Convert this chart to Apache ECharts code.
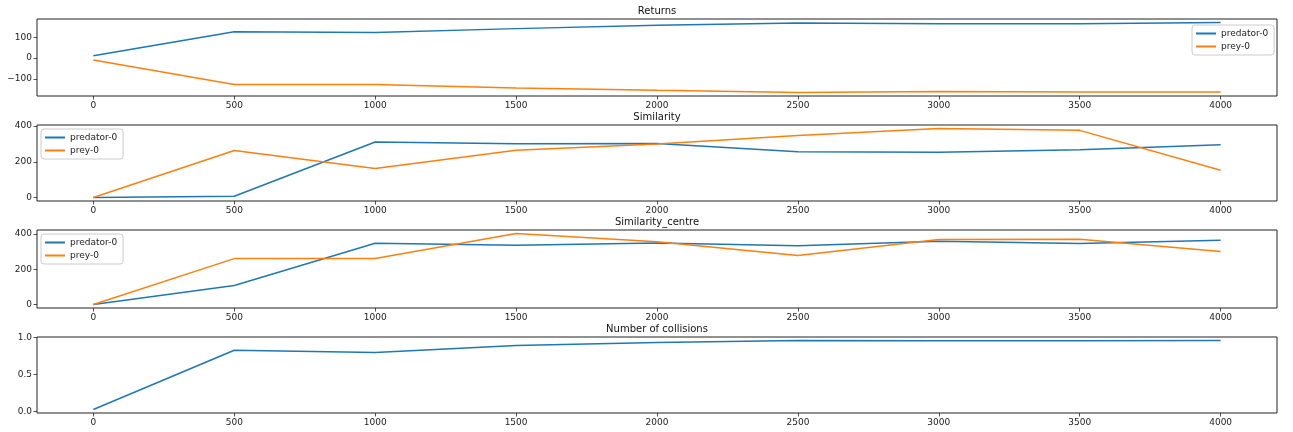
<!DOCTYPE html>
<html>
<head>
<meta charset="utf-8">
<script src="https://cdn.jsdelivr.net/npm/echarts@6/dist/echarts.min.js"></script>
<style>
  html, body { margin: 0; padding: 0; background: #fff; }
  #chart { width: 1293px; height: 432px; }
</style>
</head>
<body>
<div id="chart"></div>
<script>
// training steps shared by every panel
const steps = [0, 500, 1000, 1500, 2000, 2500, 3000, 3500, 4000];
const xTicks = [0, 500, 1000, 1500, 2000, 2500, 3000, 3500, 4000];

// Returns
const returnsPredator = [11, 126, 123, 141, 157, 168, 164, 164, 170];
const returnsPrey = [-9, -126, -126, -143, -154, -164, -159, -162, -162];
const returnsTicks = [-100, 0, 100];

// Similarity
const simPredator = [0, 7, 311, 301, 303, 256, 254, 267, 296];
const simPrey = [0, 263, 163, 265, 300, 347, 387, 376, 153];
const simTicks = [0, 200, 400];

// Similarity_centre
const centrePredator = [0, 108, 347, 335, 349, 333, 358, 345, 364];
const centrePrey = [0, 260, 261, 402, 356, 277, 368, 369, 300];
const centreTicks = [0, 200, 400];

// Number of collisions
const collisions = [0.027, 0.83, 0.80, 0.895, 0.936, 0.963, 0.96, 0.96, 0.963];
const collisionTicks = [0, 0.5, 1.0];

const panelTitles = ['Returns', 'Similarity', 'Similarity_centre', 'Number of collisions'];
const seriesNames = ['predator-0', 'prey-0'];

const BLUE = '#1f77b4';
const ORANGE = '#ff7f0e';
const FONT = 'DejaVu Sans';

const pair = (ys) => steps.map((x, i) => [x, ys[i]]);

// grid frames (px)
const grids = [
  { top: 19, height: 77 },
  { top: 125, height: 76 },
  { top: 230, height: 78 },
  { top: 337, height: 76 }
];

const yRanges = [
  { min: -181, max: 187, ticks: returnsTicks, fmt: v => String(v).replace('-', '\u2212') },
  { min: -19.4, max: 406, ticks: simTicks, fmt: v => String(v) },
  { min: -20, max: 422, ticks: centreTicks, fmt: v => String(v) },
  { min: -0.02, max: 1.01, ticks: collisionTicks, fmt: v => v.toFixed(1) }
];

const tickStyle = { show: true, inside: false, length: 3.5, lineStyle: { color: '#222', width: 0.8 } };

const option = {
  animation: false,
  backgroundColor: '#fff',
  title: panelTitles.map((t, i) => ({
    text: t,
    left: 657,
    textAlign: 'center',
    top: grids[i].top - 13,
    padding: 0,
    textStyle: { fontFamily: FONT, fontSize: 10, fontWeight: 'normal', color: '#111' }
  })),
  grid: grids.map(g => ({
    left: 37, right: 16, top: g.top, height: g.height,
    show: true, borderColor: '#222', borderWidth: 1, backgroundColor: 'transparent'
  })),
  xAxis: grids.map((g, i) => ({
    type: 'value', gridIndex: i, min: -200, max: 4200,
    position: 'bottom',
    axisLine: { show: false, onZero: false },
    splitLine: { show: false },
    axisTick: Object.assign({ customValues: xTicks }, tickStyle),
    axisLabel: {
      customValues: xTicks, margin: 5, formatter: v => String(v),
      fontFamily: FONT, fontSize: 9, color: '#222'
    }
  })),
  yAxis: yRanges.map((r, i) => ({
    type: 'value', gridIndex: i, min: r.min, max: r.max,
    position: 'left',
    axisLine: { show: false, onZero: false },
    splitLine: { show: false },
    axisTick: Object.assign({ customValues: r.ticks }, tickStyle),
    axisLabel: {
      customValues: r.ticks, margin: 5, formatter: r.fmt,
      fontFamily: FONT, fontSize: 9, color: '#222'
    }
  })),
  legend: [
    { left: 1192, top: 25 },
    { left: 41, top: 129 },
    { left: 41, top: 234 }
  ].map(p => ({
    data: seriesNames,
    orient: 'vertical',
    left: p.left, top: p.top,
    icon: 'rect', itemWidth: 20, itemHeight: 2, itemGap: 2,
    padding: [3, 6, 3, 4],
    backgroundColor: 'rgba(255,255,255,0.8)',
    borderColor: '#ccc', borderWidth: 1, borderRadius: 3,
    selectedMode: false,
    textStyle: { fontFamily: FONT, fontSize: 9, color: '#222', lineHeight: 11 }
  })),
  series: [
    [returnsPredator, returnsPrey],
    [simPredator, simPrey],
    [centrePredator, centrePrey],
    [collisions]
  ].flatMap((group, gi) => group.map((ys, si) => ({
    name: seriesNames[si],
    type: 'line',
    xAxisIndex: gi, yAxisIndex: gi,
    data: pair(ys),
    showSymbol: false,
    symbol: 'none',
    color: si === 0 ? BLUE : ORANGE,
    lineStyle: { width: 1.5, color: si === 0 ? BLUE : ORANGE }
  })))
};

const chart = echarts.init(document.getElementById('chart'), null, { renderer: 'canvas' });
chart.setOption(option);
</script>
</body>
</html>
